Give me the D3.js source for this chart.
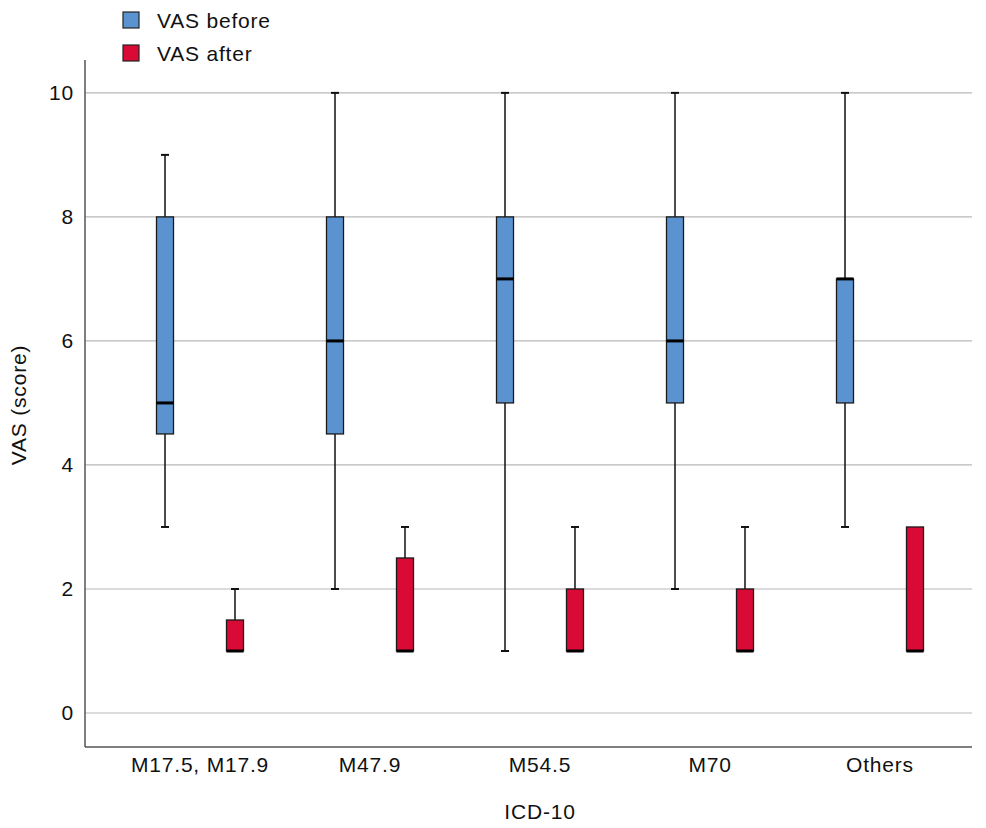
<!DOCTYPE html>
<html>
<head>
<meta charset="utf-8">
<script src="https://cdn.jsdelivr.net/npm/d3@7"></script>
<style>
  body { margin: 0; background: #fff; }
  text { font-family: "Liberation Sans", Arial, sans-serif; fill: #111; letter-spacing: 0.8px; }
</style>
</head>
<body>
<div class="boxChart"></div>
<script>
// categories and five-number summaries [min, q1, median, q3, max]
var categories = ['M17.5, M17.9', 'M47.9', 'M54.5', 'M70', 'Others'];
var series = ['VAS before', 'VAS after'];
var before = [[3, 4.5, 5, 8, 9], [2, 4.5, 6, 8, 10], [1, 5, 7, 8, 10], [2, 5, 6, 8, 10], [3, 5, 7, 7, 10]];
var after = [[1, 1, 1, 1.5, 2], [1, 1, 1, 2.5, 3], [1, 1, 1, 2, 3], [1, 1, 1, 2, 3], [1, 1, 1, 3, 3]];
var yTicks = [0, 2, 4, 6, 8, 10];
var colors = ['#5b93d1', '#d90b36'];

var W = 986, H = 828;
var plotLeft = 85, plotRight = 972, plotTop = 60, plotBottom = 747;
var fontSize = '21px';

var svg = d3.select('.boxChart')
  .append('svg')
    .attr('width', W)
    .attr('height', H);

var yScale = d3.scaleLinear()
  .domain([-0.548, 10.53])
  .range([plotBottom, plotTop]);

var xScale = d3.scaleBand()
  .domain(categories)
  .range([115, 965]);

var sub = d3.scaleBand()
  .domain(series)
  .range([0, xScale.bandwidth()])
  .paddingInner(0.757)
  .paddingOuter(0.593);

// gridlines
svg.append('g')
  .selectAll('line')
  .data(yTicks)
  .enter()
  .append('line')
    .attr('x1', plotLeft)
    .attr('x2', plotRight)
    .attr('y1', d => yScale(d))
    .attr('y2', d => yScale(d))
    .attr('stroke', '#b8b8b8')
    .attr('stroke-width', 1.2);

// axes
var yAxis = d3.axisLeft(yScale).tickValues(yTicks).tickSize(0).tickPadding(11);
var gy = svg.append('g')
  .attr('transform', 'translate(' + plotLeft + ',0)')
  .call(yAxis);
gy.select('.domain').remove();
gy.selectAll('text').style('font-size', fontSize).attr('fill', '#111');

var xAxis = d3.axisBottom(xScale).tickSize(0).tickPadding(10);
var gx = svg.append('g')
  .attr('transform', `translate(0, ${plotBottom})`)
  .call(xAxis);
gx.select('.domain').remove();
gx.selectAll('text').style('font-size', fontSize).attr('fill', '#111');

svg.append('line')
  .attr('x1', plotLeft).attr('x2', plotLeft)
  .attr('y1', plotTop).attr('y2', plotBottom)
  .attr('stroke', '#555').attr('stroke-width', 1.5);
svg.append('line')
  .attr('x1', plotLeft).attr('x2', plotRight)
  .attr('y1', plotBottom).attr('y2', plotBottom)
  .attr('stroke', '#555').attr('stroke-width', 1.5);

// axis titles
svg.append('text')
  .attr('x', 540)
  .attr('y', 819)
  .attr('text-anchor', 'middle')
  .style('font-size', fontSize)
  .text('ICD-10');
svg.append('text')
  .attr('transform', 'translate(26, 405) rotate(-90)')
  .attr('text-anchor', 'middle')
  .style('font-size', fontSize)
  .text('VAS (score)');

// boxes
var boxW = sub.bandwidth();
var capW = 8;
[before, after].forEach(function (vals, si) {
  var g = svg.append('g');
  var items = g.selectAll('g')
    .data(vals)
    .enter()
    .append('g')
      .attr('transform', (d, i) => 'translate(' + (xScale(categories[i]) + sub(series[si])) + ',0)');

  var cx = boxW / 2;
  // whiskers
  items.append('line')
    .attr('x1', cx).attr('x2', cx)
    .attr('y1', d => yScale(d[4])).attr('y2', d => yScale(d[3]))
    .attr('stroke', '#111').attr('stroke-width', 1.5);
  items.append('line')
    .attr('x1', cx).attr('x2', cx)
    .attr('y1', d => yScale(d[1])).attr('y2', d => yScale(d[0]))
    .attr('stroke', '#111').attr('stroke-width', 1.5);
  // caps
  items.filter(d => d[4] > d[3]).append('line')
    .attr('x1', cx - capW / 2).attr('x2', cx + capW / 2)
    .attr('y1', d => yScale(d[4])).attr('y2', d => yScale(d[4]))
    .attr('stroke', '#111').attr('stroke-width', 2);
  items.filter(d => d[0] < d[1]).append('line')
    .attr('x1', cx - capW / 2).attr('x2', cx + capW / 2)
    .attr('y1', d => yScale(d[0])).attr('y2', d => yScale(d[0]))
    .attr('stroke', '#111').attr('stroke-width', 2);
  // box
  items.append('rect')
    .attr('x', 0)
    .attr('width', boxW)
    .attr('y', d => yScale(d[3]))
    .attr('height', d => yScale(d[1]) - yScale(d[3]))
    .attr('fill', colors[si])
    .attr('stroke', '#1a1a1a')
    .attr('stroke-width', 1.3);
  // median
  items.append('line')
    .attr('x1', 0).attr('x2', boxW)
    .attr('y1', d => yScale(d[2])).attr('y2', d => yScale(d[2]))
    .attr('stroke', '#000').attr('stroke-width', 3);
});

// legend
var legend = svg.append('g')
  .selectAll('g')
  .data(series)
  .enter()
  .append('g')
    .attr('transform', (d, i) => 'translate(123,' + (12 + i * 33) + ')');
legend.append('rect')
  .attr('width', 16).attr('height', 16)
  .attr('fill', (d, i) => colors[i])
  .attr('stroke', '#222').attr('stroke-width', 1.2);
legend.append('text')
  .attr('x', 34).attr('y', 15.5)
  .style('font-size', fontSize)
  .text(d => d);
</script>
</body>
</html>
